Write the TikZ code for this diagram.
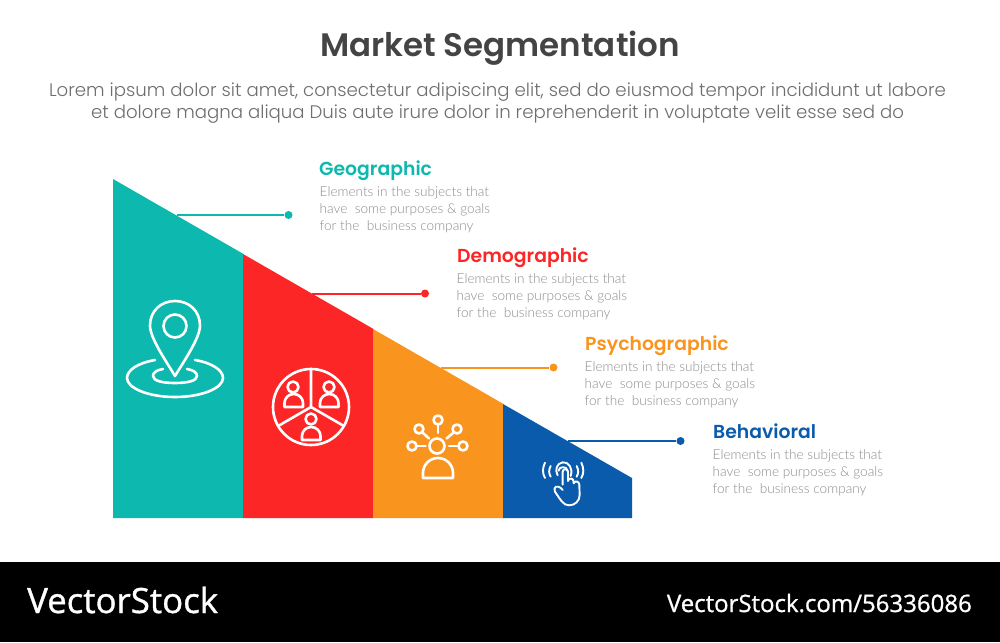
\documentclass[tikz,border=0pt]{standalone}
\usepackage{fontspec}
\setmainfont{Poppins}
\newfontfamily\bodyf{Lato}[UprightFont=* Light]
\newfontfamily\popm{Poppins}[UprightFont=* Medium,BoldFont=* SemiBold]
\newfontfamily\popl{Poppins}[UprightFont=* Light]
\newfontfamily\logof{Open Sans}[FakeBold=1]
\definecolor{cteal}{HTML}{0DB9AE}
\definecolor{cred}{HTML}{FC2626}
\definecolor{corange}{HTML}{F9941F}
\definecolor{cblue}{HTML}{0A5BAB}
\definecolor{ctitle}{HTML}{444444}
\definecolor{clead}{HTML}{6E6E6E}
\definecolor{cbody}{HTML}{8C8C8C}
\tikzset{
  head/.style={anchor=base west,inner sep=0pt,font=\popm\bfseries\fontsize{18.8}{19}\selectfont},
  bodytext/.style={anchor=north west,inner sep=0pt,align=left,text=cbody,font=\bodyf\fontsize{13.6}{17}\selectfont},
  dot/.style={circle,inner sep=0pt,minimum size=8pt},
  conn/.style={line width=2pt},
  icon/.style={draw=white,line width=2.6pt,line cap=round,line join=round},
  thinicon/.style={icon,line width=1.9pt},
  leadtext/.style={anchor=base,inner sep=0pt,text=clead,font=\popl\fontsize{18.15}{18.3}\selectfont},
}
\begin{document}
\begin{tikzpicture}[x=1pt,y=-1pt]
\useasboundingbox (0,0) rectangle (1000,642);
\fill[white] (0,0) rectangle (1000,642);
\fill[black] (0,562) rectangle (1000,642);
\node[anchor=base,inner sep=0pt,text=ctitle,font=\popm\bfseries\fontsize{32.5}{32.5}\selectfont] (title) at (500,56.5) {Market Segmentation};
\node[leadtext] (lead1) at (497.5,96) {Lorem ipsum dolor sit amet, consectetur adipiscing elit, sed do eiusmod tempor incididunt ut labore};
\node[leadtext] (lead2) at (497.5,118) {et dolore magna aliqua Duis aute irure dolor in reprehenderit in voluptate velit esse sed do};
% bars
\fill[cteal] (113,179) -- (243.5,254) -- (243.5,518) -- (113,518) -- cycle;
\fill[cred] (243,254) -- (373.5,329) -- (373.5,518) -- (243,518) -- cycle;
\fill[corange] (373,329) -- (503.5,404) -- (503.5,518) -- (373,518) -- cycle;
\fill[cblue] (503,404) -- (632,478) -- (632,518) -- (503,518) -- cycle;
% connectors
\coordinate (s1) at (177,215);
\coordinate (s2) at (312,293.5);
\coordinate (s3) at (441,367.5);
\coordinate (s4) at (568,441);
\node[dot,fill=cteal] (d1) at (288.5,215) {};
\node[dot,fill=cred] (d2) at (425,293.5) {};
\node[dot,fill=corange] (d3) at (553.5,367.5) {};
\node[dot,fill=cblue] (d4) at (680.5,441) {};
\draw[conn,cteal] (s1) -- (d1);
\draw[conn,cred] (s2) -- (d2);
\draw[conn,corange] (s3) -- (d3);
\draw[conn,cblue] (s4) -- (d4);
% labels
\node[head,text=cteal] (h1) at (319,175) {Geographic};
\node[head,text=cred] (h2) at (457,262) {Demographic};
\node[head,text=corange] (h3) at (585,350) {Psychographic};
\node[head,text=cblue] (h4) at (713,438) {Behavioral};
\node[bodytext] (b1) at (319.5,186.5) {Elements in the subjects that\\have\ \ some purposes \& goals\\for the\ \ business company};
\node[bodytext] (b2) at (456.5,273.5) {Elements in the subjects that\\have\ \ some purposes \& goals\\for the\ \ business company};
\node[bodytext] (b3) at (584.5,361.5) {Elements in the subjects that\\have\ \ some purposes \& goals\\for the\ \ business company};
\node[bodytext] (b4) at (712.5,449.5) {Elements in the subjects that\\have\ \ some purposes \& goals\\for the\ \ business company};
% pin icon
\draw[icon] (175,376) .. controls (166,361) and (150,338) .. (150,325.5)
  .. controls (150,311) and (161,301) .. (175,301)
  .. controls (189,301) and (200,311) .. (200,325.5)
  .. controls (200,338) and (184,361) .. (175,376) -- cycle;
\draw[icon] (175,326) circle (11.5);
\draw[icon] (155,360) .. controls (138,363) and (127,370) .. (127,378)
  .. controls (127,388) and (148,397) .. (175,397)
  .. controls (202,397) and (223,388) .. (223,378)
  .. controls (223,370) and (212,363) .. (195,360);
\draw[icon] (163,369) .. controls (156,370) and (153,373) .. (153,376)
  .. controls (153,381) and (163,383) .. (175,383)
  .. controls (187,383) and (197,381) .. (197,376)
  .. controls (197,373) and (194,370) .. (187,369);
% group icon
\draw[icon] (311,407) circle (38);
\draw[icon] (311,369) -- (311,407) -- (343.9,426);
\draw[icon] (311,407) -- (278.1,426);
\draw[icon] (293,387) circle (5.5);
\draw[icon] (329,387) circle (5.5);
\draw[icon] (311,419) circle (5.5);
\draw[icon] (284.5,407) -- (303,407) -- (303,403) arc[start angle=0,end angle=-180,x radius=9.25,y radius=9] -- cycle;
\draw[icon] (320,407) -- (338.5,407) -- (338.5,403) arc[start angle=0,end angle=-180,x radius=9.25,y radius=9] -- cycle;
\draw[icon] (302,440) -- (320.5,440) -- (320.5,436) arc[start angle=0,end angle=-180,x radius=9.25,y radius=9] -- cycle;
% network icon
\draw[icon] (437,446) circle (7.5);
\draw[icon] (438,420) circle (4.5);
\draw[icon] (419,429) circle (4.5);
\draw[icon] (457,429) circle (4.5);
\draw[icon] (412,446) circle (4.5);
\draw[icon] (463,446) circle (4.5);
\draw[icon] (438,425) -- (438,433);
\draw[icon] (423,433) -- (429,438.5);
\draw[icon] (453,433) -- (446.5,438.5);
\draw[icon] (417,446) -- (425.5,446);
\draw[icon] (449,446) -- (458,446);
\draw[icon] (423,478) -- (453,478) -- (453,473) arc[start angle=0,end angle=-180,x radius=15,y radius=15] -- cycle;
% touch icon
\begin{scope}[shift={(380,400)},x=0.3333pt,y=-0.3333pt]
\draw[thinicon] (548,254) -- (548,215) .. controls (548,205) and (564,205) .. (564,215) -- (564,243)
  .. controls (566,232) and (581,234) .. (581,245) -- (581,250)
  .. controls (583,241) and (598,243) .. (598,254) -- (599,285)
  .. controls (599,303) and (585,316) .. (567,316)
  .. controls (550,316) and (542,300) .. (525,275)
  .. controls (518,262) and (532,250) .. (548,270);
\draw[thinicon] (533,226) .. controls (524,210) and (530,190) .. (548,187)
  .. controls (566,185) and (580,205) .. (572,228);
\draw[thinicon] (536,212) .. controls (536,198) and (562,198) .. (562,212);
\draw[thinicon] (512,198) .. controls (506,210) and (506,220) .. (512,230);
\draw[thinicon] (495,188) .. controls (487,205) and (487,220) .. (495,234);
\draw[thinicon] (590,198) .. controls (596,210) and (596,220) .. (590,230);
\draw[thinicon] (604,188) .. controls (612,205) and (612,220) .. (604,234);
\end{scope}
% footer
\node[anchor=base west,inner sep=0pt,text=white,font=\logof\fontsize{34.8}{34}\selectfont] (logo) at (27,613) {VectorStock};
\node[anchor=base east,inner sep=0pt,text=white,font=\logof\fontsize{24}{22.5}\selectfont] (url) at (972,612) {VectorStock.com/56336086};
\end{tikzpicture}
\end{document}
